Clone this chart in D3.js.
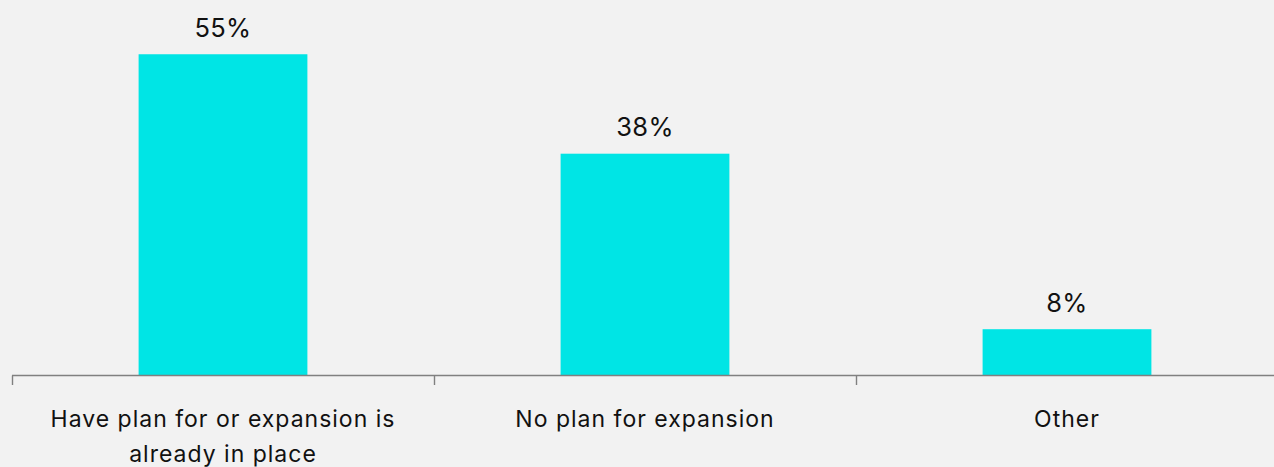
<!DOCTYPE html>
<html>
<head>
<meta charset="utf-8">
<script src="https://cdn.jsdelivr.net/npm/d3@7"></script>
<style>
  html, body { margin: 0; padding: 0; background: #f2f2f2; }
  svg { display: block; }
  text { font-family: "Inter", "Noto Sans", sans-serif; fill: #111; }
</style>
</head>
<body>
<svg id="chart" width="1274" height="467"></svg>
<script>
// Survey responses on expansion plans
const categories = [
  ["Have plan for or expansion is", "already in place"],
  ["No plan for expansion"],
  ["Other"]
];
const values = [55, 38, 8];
const valueLabels = ["55%", "38%", "8%"];

const width = 1274, height = 467;
const svg = d3.select("#chart");

const keys = categories.map((c, i) => i);

// Category slots span from the left edge past the right edge of the view
const xSlot = d3.scaleBand().domain(keys).range([12, 1278]).padding(0);
const y = d3.scaleLinear().domain([0, 60]).range([376, 25]);

const barFrac = 0.4;

// Bars
svg.append("g").selectAll("rect")
  .data(values)
  .join("rect")
  .attr("x", (d, i) => xSlot(i) + xSlot.bandwidth() * (1 - barFrac) / 2)
  .attr("width", xSlot.bandwidth() * barFrac)
  .attr("y", d => y(d))
  .attr("height", d => y(0) - y(d))
  .attr("fill", "#00e5e5");

// Value labels
svg.append("g").selectAll("text")
  .data(values)
  .join("text")
  .attr("x", (d, i) => xSlot(i) + xSlot.bandwidth() / 2)
  .attr("y", d => y(d) - 17.5)
  .attr("text-anchor", "middle")
  .attr("font-size", 25.5)
  .attr("letter-spacing", 0.3)
  .text((d, i) => valueLabels[i]);

// Baseline axis with ticks at slot boundaries
const axisG = svg.append("g");
axisG.append("line")
  .attr("x1", xSlot.range()[0]).attr("x2", xSlot.range()[1])
  .attr("y1", y(0) - 0.5).attr("y2", y(0) - 0.5)
  .attr("stroke", "#808080").attr("stroke-width", 1.4);
axisG.selectAll("line.tick")
  .data(keys.concat([keys.length]))
  .join("line")
  .attr("class", "tick")
  .attr("x1", i => (i < keys.length ? xSlot(i) : xSlot.range()[1]) + 0.5)
  .attr("x2", i => (i < keys.length ? xSlot(i) : xSlot.range()[1]) + 0.5)
  .attr("y1", y(0) - 0.5).attr("y2", y(0) + 9)
  .attr("stroke", "#808080").attr("stroke-width", 1.4);

// Category labels
const catG = svg.append("g").selectAll("text")
  .data(categories)
  .join("text")
  .attr("x", (d, i) => xSlot(i) + xSlot.bandwidth() / 2)
  .attr("y", 426.5)
  .attr("text-anchor", "middle")
  .attr("font-size", 23)
  .attr("letter-spacing", 1);
catG.selectAll("tspan")
  .data(d => d)
  .join("tspan")
  .attr("x", function() { return d3.select(this.parentNode).attr("x"); })
  .attr("dy", (d, j) => j === 0 ? 0 : 35)
  .text(d => d);
</script>
</body>
</html>
